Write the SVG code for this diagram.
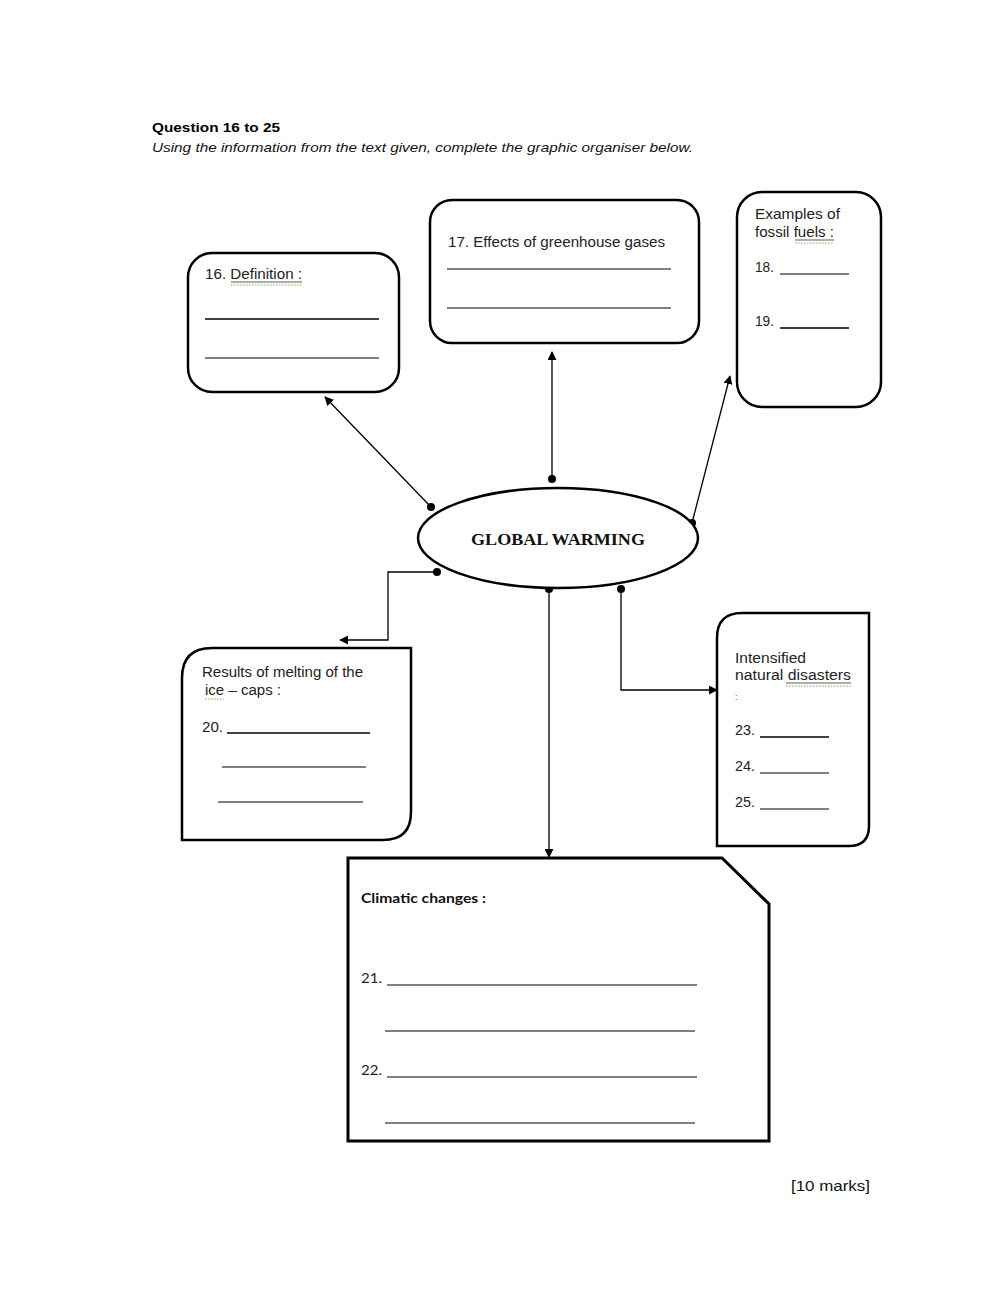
<svg xmlns="http://www.w3.org/2000/svg" width="1000" height="1291" viewBox="0 0 1000 1291">
<style>
.box{fill:#fff;stroke:#000;stroke-width:2.5}
.t{font-family:"Liberation Sans",Arial,sans-serif;font-size:14px;fill:#222}
.ln{stroke:#000;stroke-width:1}
.lnb{stroke:#000;stroke-width:1.6}
.conn{stroke:#000;stroke-width:1.3;fill:none}
.sq{stroke:#6ab04c;stroke-width:1;stroke-dasharray:1.5 1.5;fill:none}
</style>
<defs>
<marker id="ah" viewBox="0 0 10 10" refX="9" refY="5" markerWidth="9" markerHeight="9" markerUnits="userSpaceOnUse" orient="auto">
<path d="M0,0 L10,5 L0,10 z" fill="#000"/>
</marker>
</defs>
<rect width="1000" height="1291" fill="#fff"/>
<g id="header">
<text x="152" y="132" font-family="Liberation Sans,Arial,sans-serif" font-weight="bold" font-size="13.5" fill="#000" textLength="128" lengthAdjust="spacingAndGlyphs">Question 16 to 25</text>
<text x="152" y="152" font-family="Liberation Sans,Arial,sans-serif" font-style="italic" font-size="13.5" fill="#111" textLength="541" lengthAdjust="spacingAndGlyphs">Using the information from the text given, complete the graphic organiser below.</text>
</g>
<g id="connectors">
<line class="conn" x1="431" y1="507" x2="325" y2="397" marker-end="url(#ah)"/>
<line class="conn" x1="552" y1="479" x2="552" y2="352" marker-end="url(#ah)"/>
<line class="conn" x1="692" y1="523" x2="730" y2="376" marker-end="url(#ah)"/>
<polyline class="conn" points="437,572 388,572 388,640 340,640" marker-end="url(#ah)"/>
<line class="conn" x1="549" y1="589" x2="549" y2="857" marker-end="url(#ah)"/>
<polyline class="conn" points="621,589 621,690 717,690" marker-end="url(#ah)"/>
<circle cx="431" cy="507" r="4"/>
<circle cx="552" cy="479" r="4"/>
<circle cx="692" cy="523" r="4"/>
<circle cx="437" cy="572" r="4"/>
<circle cx="549" cy="589" r="4"/>
<circle cx="621" cy="589" r="4"/>
</g>
<g id="global-warming">
<ellipse cx="558" cy="538" rx="140" ry="50" fill="#fff" stroke="#000" stroke-width="2.5"/>
<text x="558" y="545" text-anchor="middle" font-family="Liberation Serif,Times New Roman,serif" font-weight="bold" font-size="16" fill="#111" textLength="174" lengthAdjust="spacingAndGlyphs">GLOBAL WARMING</text>
</g>
<g id="definition">
<rect class="box" x="188" y="253" width="211" height="139" rx="24"/>
<text class="t" x="205" y="279" textLength="97" lengthAdjust="spacingAndGlyphs">16. Definition :</text>
<line x1="231" y1="282" x2="302" y2="282" stroke="#333" stroke-width="0.8"/>
<path class="sq" d="M231,285 L302,285"/>
<line class="lnb" x1="205" y1="319" x2="379" y2="319"/>
<line class="ln" x1="205" y1="358" x2="379" y2="358"/>
</g>
<g id="effects">
<rect class="box" x="430" y="200" width="269" height="143" rx="22"/>
<text class="t" x="448" y="247" textLength="217" lengthAdjust="spacingAndGlyphs">17. Effects of greenhouse gases</text>
<line class="ln" x1="447" y1="269" x2="671" y2="269"/>
<line class="ln" x1="447" y1="308" x2="671" y2="308"/>
</g>
<g id="fossil-fuels">
<rect class="box" x="737" y="192" width="144" height="215" rx="25"/>
<text class="t" x="755" y="219" textLength="85" lengthAdjust="spacingAndGlyphs">Examples of</text>
<text class="t" x="755" y="237" textLength="79" lengthAdjust="spacingAndGlyphs">fossil fuels :</text>
<line x1="795" y1="240" x2="834" y2="240" stroke="#333" stroke-width="0.8"/>
<path class="sq" d="M795,243 L834,243"/>
<text class="t" x="755" y="272" textLength="19" lengthAdjust="spacingAndGlyphs">18.</text>
<line class="ln" x1="780" y1="274" x2="849" y2="274"/>
<text class="t" x="755" y="326" textLength="19" lengthAdjust="spacingAndGlyphs">19.</text>
<line class="lnb" x1="780" y1="328" x2="849" y2="328"/>
</g>
<g id="ice-caps">
<path class="box" d="M182,840 L182,678 Q182,648 212,648 L411,648 L411,812 Q411,840 383,840 Z"/>
<text class="t" x="202" y="677" textLength="161" lengthAdjust="spacingAndGlyphs">Results of melting of the</text>
<text class="t" x="205" y="695" textLength="76" lengthAdjust="spacingAndGlyphs">ice – caps :</text>
<path class="sq" d="M205,699 L224,699"/>
<text class="t" x="202" y="732" textLength="21" lengthAdjust="spacingAndGlyphs">20.</text>
<line class="lnb" x1="227" y1="733" x2="370" y2="733"/>
<line class="ln" x1="222" y1="767" x2="366" y2="767"/>
<line class="ln" x1="218" y1="802" x2="363" y2="802"/>
</g>
<g id="natural-disasters">
<path class="box" d="M717,846 L717,638 Q717,613 742,613 L869,613 L869,826 Q869,846 849,846 Z"/>
<text class="t" x="735" y="663" textLength="71" lengthAdjust="spacingAndGlyphs">Intensified</text>
<text class="t" x="735" y="680" textLength="116" lengthAdjust="spacingAndGlyphs">natural disasters</text>
<line x1="786" y1="683" x2="851" y2="683" stroke="#333" stroke-width="0.8"/>
<path class="sq" d="M786,686 L851,686"/>
<text x="735" y="700" font-family="Liberation Sans,Arial,sans-serif" font-size="9" fill="#555">:</text>
<text class="t" x="735" y="735" textLength="20" lengthAdjust="spacingAndGlyphs">23.</text>
<line class="lnb" x1="760" y1="737" x2="829" y2="737"/>
<text class="t" x="735" y="771" textLength="20" lengthAdjust="spacingAndGlyphs">24.</text>
<line class="ln" x1="760" y1="773" x2="829" y2="773"/>
<text class="t" x="735" y="807" textLength="20" lengthAdjust="spacingAndGlyphs">25.</text>
<line class="ln" x1="760" y1="809" x2="829" y2="809"/>
</g>
<g id="climatic-changes">
<path d="M348,858 L722,858 L769,904 L769,1141 L348,1141 Z" fill="#fff" stroke="#000" stroke-width="3"/>
<text x="361" y="903" font-family="Lato,Liberation Sans,sans-serif" font-weight="bold" font-size="14" fill="#111" textLength="125" lengthAdjust="spacingAndGlyphs">Climatic changes :</text>
<text x="361" y="983" font-family="Lato,Liberation Sans,sans-serif" font-size="14" fill="#222" textLength="21" lengthAdjust="spacingAndGlyphs">21.</text>
<line class="ln" x1="387" y1="985" x2="697" y2="985"/>
<line class="ln" x1="385" y1="1031" x2="695" y2="1031"/>
<text x="361" y="1075" font-family="Lato,Liberation Sans,sans-serif" font-size="14" fill="#222" textLength="21" lengthAdjust="spacingAndGlyphs">22.</text>
<line class="ln" x1="387" y1="1077" x2="697" y2="1077"/>
<line class="ln" x1="385" y1="1123" x2="695" y2="1123"/>
</g>
<g id="marks">
<text x="870" y="1191" text-anchor="end" font-family="Liberation Sans,Arial,sans-serif" font-size="15" fill="#111" textLength="79" lengthAdjust="spacingAndGlyphs">[10 marks]</text>
</g>
</svg>
